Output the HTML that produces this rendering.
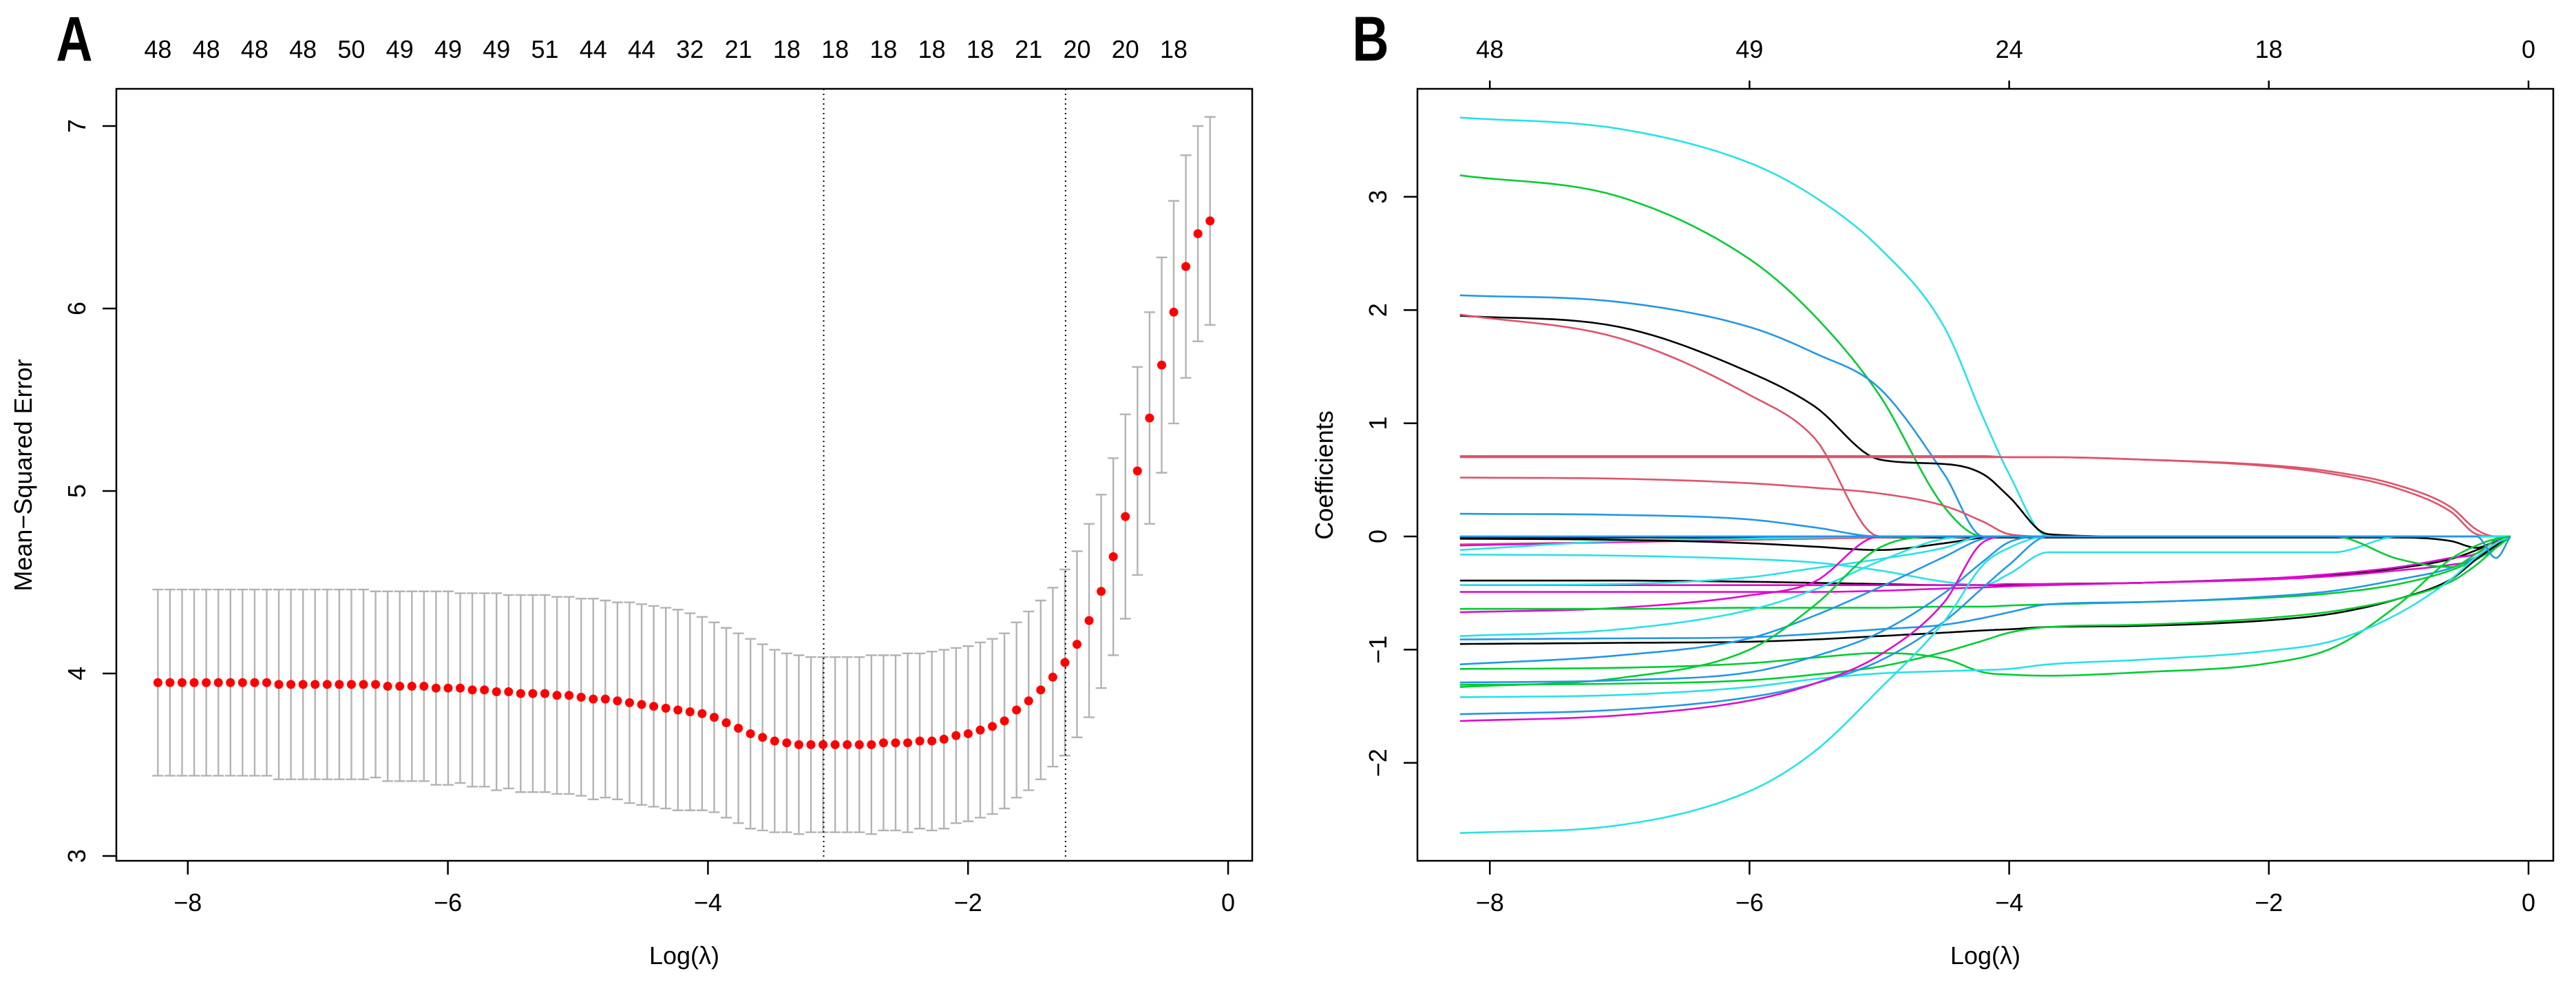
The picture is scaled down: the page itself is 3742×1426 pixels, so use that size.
<!DOCTYPE html>
<html><head><meta charset="utf-8"><style>
html,body{margin:0;padding:0;background:#fff;}
svg{display:block;font-family:"Liberation Sans",sans-serif;}
</style></head><body>
<svg id="fig" width="3742" height="1426" viewBox="0 0 3742 1426" xmlns="http://www.w3.org/2000/svg">
<rect x="0" y="0" width="3742" height="1426" fill="#fff"/>
<g id="pa"></g>
<g id="pb"></g>
</svg>
<script>
// ---------- Panel A data ----------
const mseValues = [3.95,3.95,3.95,3.95,3.95,3.95,3.95,3.95,3.95,3.95,3.94,3.94,3.94,3.94,3.94,3.94,3.94,3.94,3.94,3.93,3.93,
3.93,3.93,3.92,3.92,3.92,3.91,3.91,3.90,3.90,3.89,
3.89,3.89,3.88,3.88,3.87,3.86,3.86,3.85,3.84,3.83,
3.82,3.81,3.80,3.79,3.78,3.76,3.73,3.70,3.67,3.65,
3.63,3.62,3.61,3.61,3.61,
3.61,3.61,3.61,3.61,3.62,3.62,3.62,3.63,3.63,3.64,
3.66,3.67,3.69,3.71,3.74,3.80,3.85,
3.91,3.98,4.06,4.16,4.29,4.45,4.64,4.86,5.11,5.40,5.69,5.98,6.23,6.41,6.48];
const mseUpper = [4.46,4.46,4.46,4.46,4.46,4.46,4.46,4.46,4.46,4.46,4.46,4.46,4.46,4.46,4.46,4.46,4.46,4.46,4.45,4.45,4.45,
4.45,4.45,4.45,4.45,4.44,4.44,4.44,4.44,4.43,4.43,
4.43,4.43,4.42,4.42,4.41,4.41,4.40,4.39,4.39,4.38,
4.37,4.36,4.35,4.33,4.31,4.28,4.25,4.22,4.19,4.16,
4.13,4.11,4.10,4.09,4.09,
4.09,4.09,4.09,4.10,4.10,4.10,4.11,4.11,4.12,4.13,
4.14,4.15,4.17,4.19,4.22,4.28,4.34,
4.40,4.47,4.57,4.67,4.82,4.98,5.18,5.42,5.68,5.98,6.28,6.59,6.84,7.00,7.05];
const logLambdaStart = -8.23;
const logLambdaStep = 0.093;
const topCountsA = ["48","48","48","48","50","49","49","49","51","44","44","32","21","18","18","18","18","18","21","20","20","18"];
const vlines = [-3.11, -1.25];
const xTicks = [-8,-6,-4,-2,0];
const yTicksA = [3,4,5,6,7];

// ---------- Panel B data ----------
const knotX = [-8.23,-7,-6,-5.5,-5,-4.5,-4.2,-4,-3.7,-3,-2,-1.5,-1,-0.6,-0.4,-0.25,-0.14];
const pathColors = {k:"#000000",r:"#DF536B",g:"#00CC33",b:"#2297E6",c:"#28E2E5",m:"#E00BCF"};
const blackZero  = [-0.01,-0.01,-0.01,-0.01,-0.01,-0.01,-0.01,-0.01,-0.01,-0.01,-0.01,-0.01,-0.01,-0.04,-0.1,-0.04,0];
const redZero    = [-0.07,-0.05,-0.03,-0.02,-0.01,0,0,0,0,0,0,0,0,0,0,0,0];
const magZero    = [-0.08,-0.05,-0.02,0,0,0,0,0,0,0,0,0,0,0,0,0,0];
const cyanZero   = [-0.12,-0.04,-0.02,-0.01,0,0,0,0,0,0,0,0,0,0,0,0,0];
const blackDip   = [-0.02,-0.03,-0.06,-0.09,-0.12,-0.06,-0.01,0,0,0,0,0,0,0,0,0,0];
const cyanTop    = [3.70,3.60,3.30,3.00,2.55,1.85,1.05,0.55,0,0,0,0,0,0,0,0,0];
const greenTop   = [3.19,3.00,2.45,1.95,1.25,0.26,0,0,0,0,0,0,0,0,0,0,0];
const blueTop    = [2.13,2.07,1.85,1.62,1.31,0.55,0,0,0,0,0,0,0,0,0,0,0];
const blackTop   = [1.95,1.85,1.45,1.15,0.68,0.64,0.55,0.35,0.02,0,0,0,0,0,0,0,0];
const redTop     = [1.96,1.75,1.25,0.87,0,0,0,0,0,0,0,0,0,0,0,0,0];
const redFlatA   = [0.70,0.70,0.70,0.70,0.70,0.70,0.70,0.70,0.70,0.68,0.62,0.55,0.42,0.22,0.02,0,0];
const redFlatB   = [0.71,0.71,0.71,0.71,0.71,0.71,0.71,0.70,0.70,0.68,0.63,0.57,0.45,0.26,0.06,0,0];
const redMid     = [0.52,0.51,0.47,0.43,0.38,0.27,0.13,0.02,0,0,0,0,0,0,0,0,0];
const blueSmall  = [0.20,0.19,0.15,0.08,0,0,0,0,0,0,0,0,0,0,0,0,0];
const cyanA      = [-0.16,-0.17,-0.20,-0.23,-0.30,-0.40,-0.43,-0.33,-0.14,-0.14,-0.14,-0.14,0,0,0,0,0];
const blackB     = [-0.39,-0.39,-0.40,-0.41,-0.42,-0.43,-0.43,-0.43,-0.42,-0.41,-0.37,-0.34,-0.28,-0.20,-0.12,-0.04,0];
const magB       = [-0.43,-0.43,-0.43,-0.43,-0.43,-0.43,-0.43,-0.42,-0.42,-0.41,-0.37,-0.33,-0.27,-0.19,-0.15,-0.03,0];
const magC       = [-0.49,-0.49,-0.49,-0.49,-0.48,-0.46,-0.45,-0.44,-0.43,-0.41,-0.38,-0.35,-0.30,-0.25,-0.20,-0.05,0];
const cyanB      = [-0.43,-0.42,-0.36,-0.28,-0.20,-0.10,0,0,0,0,0,0,0,0,0,0,0];
const magD       = [-0.67,-0.63,-0.52,-0.40,0,0,0,0,0,0,0,0,0,0,0,0,0];
const greenB     = [-0.64,-0.64,-0.63,-0.63,-0.63,-0.62,-0.62,-0.61,-0.60,-0.58,-0.54,-0.50,-0.42,-0.30,-0.20,-0.10,0];
const cyanC      = [-0.88,-0.82,-0.65,-0.47,-0.22,-0.02,0,0,0,0,0,0,0,0,0,0,0];
const blueB      = [-0.91,-0.90,-0.89,-0.86,-0.82,-0.78,-0.72,-0.67,-0.60,-0.58,-0.53,-0.48,-0.38,-0.28,-0.18,-0.08,0];
const blackC     = [-0.95,-0.94,-0.93,-0.91,-0.88,-0.85,-0.83,-0.82,-0.80,-0.79,-0.74,-0.68,-0.55,-0.38,-0.20,-0.08,0];
const blueC      = [-1.13,-1.05,-0.90,-0.70,-0.45,-0.18,-0.02,0,0,0,0,0,0,0,0,0,0];
const greenC     = [-1.17,-1.16,-1.12,-1.07,-1.03,-1.08,-1.20,-1.22,-1.23,-1.20,-1.12,-0.98,-0.60,-0.20,-0.08,-0.02,0];
const greenD     = [-1.33,-1.25,-1.00,-0.61,-0.10,0,0,0,0,0,0,0,0,0,0,0,0];
const greenE     = [-1.31,-1.30,-1.27,-1.22,-1.15,-1.02,-0.92,-0.85,-0.80,-0.78,-0.72,-0.66,-0.55,-0.40,-0.25,-0.10,0];
const blueD      = [-1.29,-1.27,-1.20,-1.06,-0.85,-0.50,-0.22,-0.05,0,0,0,0,0,0,0,0,0];
const cyanD      = [-1.42,-1.40,-1.33,-1.26,-1.21,-1.19,-1.18,-1.17,-1.13,-1.09,-1.01,-0.92,-0.68,-0.38,-0.18,-0.06,0];
const blueE      = [-1.57,-1.53,-1.42,-1.30,-1.10,-0.75,-0.45,-0.25,0,0,0,0,0,0,0,0,0];
const magE       = [-1.63,-1.58,-1.45,-1.30,-1.05,-0.58,-0.05,0,0,0,0,0,0,0,0,0,0];
const cyanBottom = [-2.62,-2.55,-2.25,-1.90,-1.35,-0.75,-0.25,-0.10,0,0,0,0,0,0,0,0,0];
const greenLate  = [0,0,0,0,0,0,0,0,0,0,0,0,-0.20,-0.27,-0.15,-0.03,0];
const blueLate   = [0,0,0,0,0,0,0,0,0,0,0,0,0,0,0,-0.19,0];
const pathSeries = [
 ["k",blackZero],["r",redZero],["m",magZero],["c",cyanZero],["k",blackDip],
 ["c",cyanTop],["g",greenTop],["b",blueTop],["k",blackTop],["r",redTop],
 ["r",redFlatA],["r",redFlatB],["r",redMid],["b",blueSmall],["c",cyanA],
 ["k",blackB],["m",magB],["m",magC],["c",cyanB],["m",magD],["g",greenB],
 ["c",cyanC],["b",blueB],["k",blackC],["b",blueC],["g",greenC],["g",greenD],
 ["g",greenE],["b",blueD],["c",cyanD],["b",blueE],["m",magE],["c",cyanBottom],
 ["g",greenLate],["b",blueLate]
];
const topTicksB = [-8,-6,-4,-2,0];
const topCountsB = ["48","49","24","18","0"];
const yTicksB = [-2,-1,0,1,2,3];

// ---------- helpers ----------
const NS = "http://www.w3.org/2000/svg";
function mk(parent, tag, attrs, text){
  const e = document.createElementNS(NS, tag);
  for (const k in attrs) e.setAttribute(k, attrs[k]);
  if (text !== undefined) e.textContent = text;
  parent.appendChild(e);
  return e;
}
// monotone cubic (Fritsch-Carlson) sampling
function monotonePoints(xs, ys, n){
  const m = xs.length, d = [], t = new Array(m);
  for (let i = 0; i < m-1; i++) d.push((ys[i+1]-ys[i])/(xs[i+1]-xs[i]));
  t[0] = d[0]; t[m-1] = d[m-2];
  for (let i = 1; i < m-1; i++) t[i] = (d[i-1]*d[i] <= 0) ? 0 : (d[i-1]+d[i])/2;
  for (let i = 0; i < m-1; i++) {
    if (d[i] === 0) { t[i] = 0; t[i+1] = 0; continue; }
    const a = t[i]/d[i], b = t[i+1]/d[i], s = a*a+b*b;
    if (s > 9) { const k = 3/Math.sqrt(s); t[i] = k*a*d[i]; t[i+1] = k*b*d[i]; }
  }
  const out = [];
  for (let i = 0; i < m-1; i++) {
    const h = xs[i+1]-xs[i];
    for (let j = 0; j < n; j++) {
      const u = j/n, h00 = 2*u*u*u-3*u*u+1, h10 = u*u*u-2*u*u+u, h01 = -2*u*u*u+3*u*u, h11 = u*u*u-u*u;
      out.push([xs[i]+u*h, h00*ys[i]+h10*h*t[i]+h01*ys[i+1]+h11*h*t[i+1]]);
    }
  }
  out.push([xs[m-1], ys[m-1]]);
  return out;
}
const FS = 36;

// ---------- Panel A ----------
const pa = document.getElementById('pa');
const A = {l:169, r:1819, t:129, b:1250};
const xA = v => 1784 + v * 188.9;
const yA = v => 1243 - (v - 3) * 265;

let t = mk(pa,'text',{x:108,y:88,'font-size':92,'font-weight':'bold','text-anchor':'middle',transform:'translate(108 0) scale(0.8 1) translate(-108 0)'},'A');



for (let i = 0; i < mseValues.length; i++) {
  const x = xA(logLambdaStart + i * logLambdaStep);
  const up = mseUpper[i], lo = 2 * mseValues[i] - mseUpper[i];
  const g = mk(pa,'g',{});
  
  
  mk(g,'line',{x1:x,x2:x,y1:yA(up),y2:yA(lo),stroke:'#b3b3b3','stroke-width':2.4});
  mk(g,'line',{x1:x-8,x2:x+8,y1:yA(up),y2:yA(up),stroke:'#b3b3b3','stroke-width':2.4});
  mk(g,'line',{x1:x-8,x2:x+8,y1:yA(lo),y2:yA(lo),stroke:'#b3b3b3','stroke-width':2.4});
}
vlines.forEach(v => {
  const l = mk(pa,'line',{x1:xA(v),x2:xA(v),y1:A.t,y2:A.b,stroke:'#000','stroke-width':2,'stroke-dasharray':'2 5'});
  
  
});
for (let i = 0; i < mseValues.length; i++) {
  const c = mk(pa,'circle',{cx:xA(logLambdaStart + i * logLambdaStep),cy:yA(mseValues[i]),r:6.5,fill:'#ff0000'});
  
  
}
let box = mk(pa,'rect',{x:A.l,y:A.t,width:A.r-A.l,height:A.b-A.t,fill:'none',stroke:'#000','stroke-width':2.5});


xTicks.forEach(v => {
  mk(pa,'line',{x1:xA(v),x2:xA(v),y1:A.b,y2:A.b+20,stroke:'#000','stroke-width':2.5});
  const tx = mk(pa,'text',{x:xA(v),y:1323,'font-size':FS,'text-anchor':'middle'},v === 0 ? '0' : '\u2212' + Math.abs(v));
  
  
});
yTicksA.forEach(v => {
  mk(pa,'line',{x1:A.l,x2:A.l-20,y1:yA(v),y2:yA(v),stroke:'#000','stroke-width':2.5});
  const tx = mk(pa,'text',{x:0,y:0,'font-size':FS,'text-anchor':'middle',transform:`translate(124 ${yA(v)}) rotate(-90)`},String(v));
  
  
});
topCountsA.forEach((s, k) => {
  const tx = mk(pa,'text',{x:xA(logLambdaStart + k * 4 * logLambdaStep),y:84,'font-size':FS,'text-anchor':'middle'},s);
  
  
});
t = mk(pa,'text',{x:994,y:1400,'font-size':FS,'text-anchor':'middle'},'Log(\u03bb)');


t = mk(pa,'text',{x:0,y:0,'font-size':FS,'text-anchor':'middle',transform:'translate(46 690) rotate(-90)'},'Mean\u2212Squared Error');



// ---------- Panel B ----------
const pb = document.getElementById('pb');
const B = {l:2059, r:3709, t:129, b:1250};
const xB = v => 3673 + v * 188.6;
const yB = v => 779 - v * 164.4;
t = mk(pb,'text',{x:1991,y:88,'font-size':92,'font-weight':'bold','text-anchor':'middle',transform:'translate(1991 0) scale(0.8 1) translate(-1991 0)'},'B');


pathSeries.forEach(([col, vals]) => {
  const pts = monotonePoints(knotX, vals, 12).map(p => xB(p[0]).toFixed(1) + ',' + yB(p[1]).toFixed(1)).join(' ');
  const pl = mk(pb,'polyline',{points:pts,fill:'none',stroke:pathColors[col],'stroke-width':2.6,'stroke-linejoin':'round'});
  
  
});
box = mk(pb,'rect',{x:B.l,y:B.t,width:B.r-B.l,height:B.b-B.t,fill:'none',stroke:'#000','stroke-width':2.5});


xTicks.forEach(v => {
  mk(pb,'line',{x1:xB(v),x2:xB(v),y1:B.b,y2:B.b+20,stroke:'#000','stroke-width':2.5});
  const tx = mk(pb,'text',{x:xB(v),y:1323,'font-size':FS,'text-anchor':'middle'},v === 0 ? '0' : '\u2212' + Math.abs(v));
  
  
});
topTicksB.forEach((v, k) => {
  mk(pb,'line',{x1:xB(v),x2:xB(v),y1:B.t,y2:B.t-12,stroke:'#000','stroke-width':2.5});
  const tx = mk(pb,'text',{x:xB(v),y:84,'font-size':FS,'text-anchor':'middle'},topCountsB[k]);
  
  
});
yTicksB.forEach(v => {
  mk(pb,'line',{x1:B.l,x2:B.l-20,y1:yB(v),y2:yB(v),stroke:'#000','stroke-width':2.5});
  const tx = mk(pb,'text',{x:0,y:0,'font-size':FS,'text-anchor':'middle',transform:`translate(2014 ${yB(v)}) rotate(-90)`},v < 0 ? '\u2212' + Math.abs(v) : String(v));
  
  
});
t = mk(pb,'text',{x:2884,y:1400,'font-size':FS,'text-anchor':'middle'},'Log(\u03bb)');


t = mk(pb,'text',{x:0,y:0,'font-size':FS,'text-anchor':'middle',transform:'translate(1936 690) rotate(-90)'},'Coefficients');


</script>
</body></html>
